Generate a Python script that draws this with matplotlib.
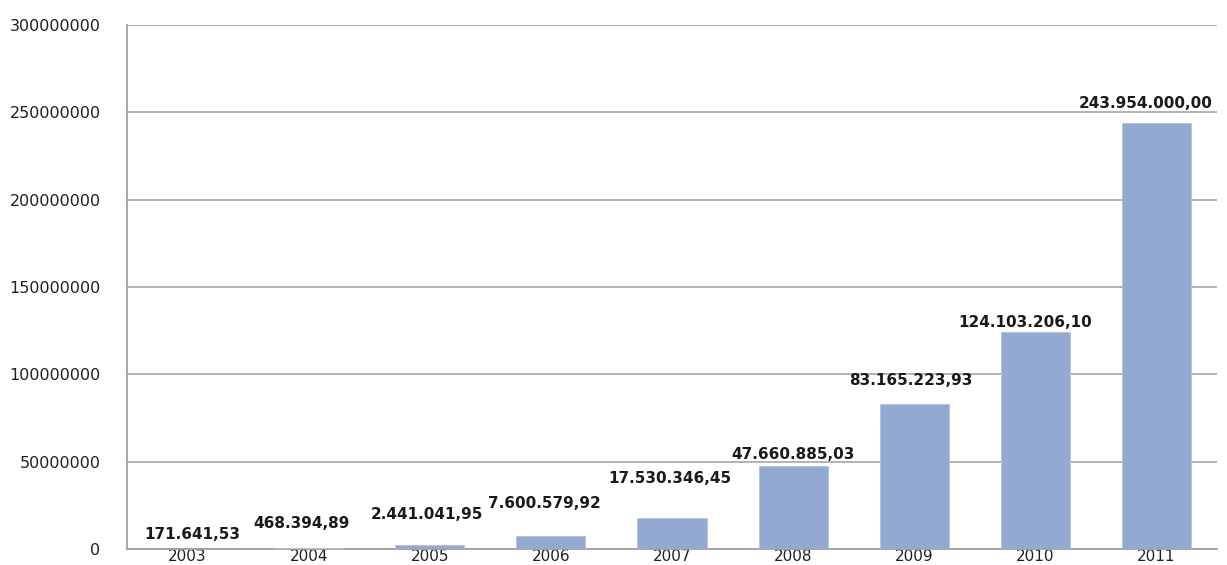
import matplotlib
matplotlib.use("Agg")
import matplotlib.pyplot as plt

# Annual amounts
years = ["2003", "2004", "2005", "2006", "2007", "2008", "2009", "2010", "2011"]
values = [171641.53, 468394.89, 2441041.95, 7600579.92, 17530346.45,
          47660885.03, 83165223.93, 124103206.10, 243954000.00]
y_ticks = [0, 50000000, 100000000, 150000000, 200000000, 250000000, 300000000]

# Label placement relative to each bar top (pixels)
label_dx = [5, -7, -3, -7, -2, 0, -3, -10, -11]
label_dy = [14, 25, 30, 32, 40, 11, 23, 10, 19]


def fmt_pt(v):
    s = f"{v:,.2f}"
    return s.replace(",", "X").replace(".", ",").replace("X", ".")


W, H = 1227, 565
fig = plt.figure(figsize=(W / 100, H / 100), dpi=100)
left, right, top, bottom = 127, 1217, 25, 549
ax = fig.add_axes([left / W, 1 - bottom / H, (right - left) / W, (bottom - top) / H])

x = list(range(len(years)))
ax.bar(x, values, width=0.57, color="#94A9D1", edgecolor="#B4C3E0", linewidth=0.6, zorder=3)

ax.set_xlim(-0.5, len(years) - 0.5)
ax.set_ylim(0, 300000000)
ax.set_yticks(y_ticks)
ax.set_yticklabels([str(t) for t in y_ticks])
ax.set_xticks(x)
ax.set_xticklabels(years)

ax.yaxis.grid(True, color="#A6A6A6", linewidth=1.2, zorder=0)
ax.set_axisbelow(True)
for side in ("top", "right"):
    ax.spines[side].set_visible(False)
for side in ("left", "bottom"):
    ax.spines[side].set_color("#A0A0A0")
    ax.spines[side].set_linewidth(1.3)

ax.tick_params(axis="both", length=0, colors="#1F1F1F")
ax.tick_params(axis="y", pad=19, labelsize=11.5)
ax.tick_params(axis="x", pad=0, labelsize=11)

for xi, v, dx, dy in zip(x, values, label_dx, label_dy):
    ax.annotate(fmt_pt(v), xy=(xi, v), xytext=(dx, dy), textcoords="offset pixels",
                ha="center", va="center", fontsize=11, fontweight="bold",
                color="#1A1A1A", zorder=4)

fig.savefig("out.png", dpi=100)
